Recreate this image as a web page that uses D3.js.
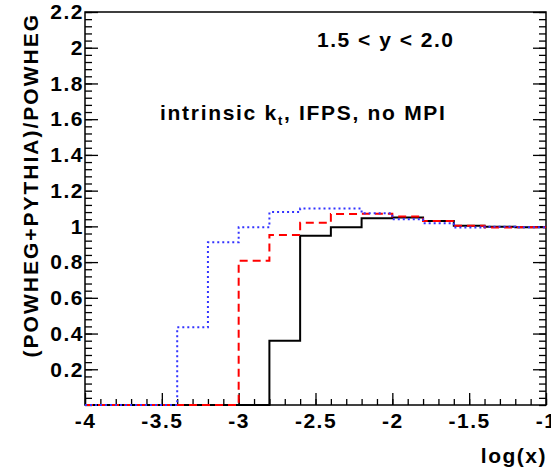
<!DOCTYPE html>
<html>
<head>
<meta charset="utf-8">
<script src="https://cdn.jsdelivr.net/npm/d3@7"></script>
<style>
  body { margin: 0; background: #fff; }
  svg text { font-family: "Liberation Sans", Arial, sans-serif; font-weight: bold; fill: #000; letter-spacing: 1.5px; }
</style>
</head>
<body>
<div id="chart"></div>
<script>
// bin edges: 15 bins of 0.2 from -4 to -1
const binEdges = [-4, -3.8, -3.6, -3.4, -3.2, -3.0, -2.8, -2.6, -2.4, -2.2, -2.0, -1.8, -1.6, -1.4, -1.2, -1.0]
const blackVals = [0, 0, 0, 0, 0, 0, 0.36, 0.948, 0.995, 1.045, 1.05, 1.03, 1.004, 0.998, 0.995]
const redVals   = [0, 0, 0, 0, 0, 0.808, 0.952, 1.02, 1.069, 1.07, 1.055, 1.03, 1.004, 0.993, 0.995]
const blueVals  = [0, 0, 0, 0.435, 0.911, 0.995, 1.08, 1.10, 1.10, 1.073, 1.04, 1.017, 0.993, 0.998, 0.995]
const xTicks = [-4, -3.5, -3, -2.5, -2, -1.5, -1]
const yTicks = [0.2, 0.4, 0.6, 0.8, 1, 1.2, 1.4, 1.6, 1.8, 2, 2.2]

var width = 551, height = 472
var plotL = 85, plotR = 546, plotT = 12, plotB = 405

const svg = d3.select("#chart").append("svg")
  .attr("width", width)
  .attr("height", height)

var x = d3.scaleLinear().domain([-4, -1]).range([plotL, plotR])
var y = d3.scaleLinear().domain([0, 2.2]).range([plotB, plotT])

// minor ticks
const xMinor = d3.range(0, 31).map(i => -4 + i * 0.1)
const yMinor = d3.range(0, 56).map(i => i * 0.04)

svg.append("g")
  .attr("transform", "translate(0," + plotB + ")")
  .call(d3.axisBottom(x).tickValues(xMinor).tickSizeInner(-6).tickSizeOuter(0).tickFormat(""))
  .call(g => g.select(".domain").remove())

svg.append("g")
  .attr("transform", "translate(" + plotL + ",0)")
  .call(d3.axisLeft(y).tickValues(yMinor).tickSizeInner(-7).tickSizeOuter(0).tickFormat(""))
  .call(g => g.select(".domain").remove())

svg.append("g")
  .attr("transform", "translate(" + plotR + ",0)")
  .call(d3.axisRight(y).tickValues(yMinor).tickSizeInner(-7).tickSizeOuter(0).tickFormat(""))
  .call(g => g.select(".domain").remove())

// major ticks + labels
svg.append("g")
  .attr("transform", "translate(0," + plotB + ")")
  .call(d3.axisBottom(x).tickValues(xTicks).tickSizeInner(-12).tickSizeOuter(0).tickPadding(8)
    .tickFormat(d => d3.format("~g")(d).replace("−", "-")))
  .call(g => g.select(".domain").remove())
  .selectAll("text").style("font-size", "21px")

svg.append("g")
  .attr("transform", "translate(" + plotL + ",0)")
  .call(d3.axisLeft(y).tickValues(yTicks).tickSizeInner(-13).tickSizeOuter(0).tickPadding(1)
    .tickFormat(d => d3.format("~g")(d)))
  .call(g => g.select(".domain").remove())
  .selectAll("text").style("font-size", "21px")

svg.append("g")
  .attr("transform", "translate(" + plotR + ",0)")
  .call(d3.axisRight(y).tickValues(yTicks).tickSizeInner(-13).tickSizeOuter(0).tickFormat(""))
  .call(g => g.select(".domain").remove())

svg.selectAll(".tick line").attr("stroke", "#000").attr("stroke-width", 1.3)

// frame
svg.append("rect")
  .attr("x", plotL).attr("y", plotT)
  .attr("width", plotR - plotL).attr("height", plotB - plotT)
  .attr("fill", "none").attr("stroke", "#000").attr("stroke-width", 1.5)

// histograms as step lines
function stepPts(vals) {
  const pts = vals.map((v, i) => [binEdges[i], v])
  pts.push([binEdges[binEdges.length - 1], vals[vals.length - 1]])
  return pts
}
var line = d3.line()
  .x(d => x(d[0]))
  .y(d => y(d[1]))
  .curve(d3.curveStepAfter)

svg.append("path")
  .attr("d", line(stepPts(blackVals)))
  .attr("fill", "none").attr("stroke", "#000").attr("stroke-width", 2)

svg.append("path")
  .attr("d", line(stepPts(redVals)))
  .attr("fill", "none").attr("stroke", "#ff0000").attr("stroke-width", 2)
  .attr("stroke-dasharray", "8,5")

svg.append("path")
  .attr("d", line(stepPts(blueVals)))
  .attr("fill", "none").attr("stroke", "#3333ff").attr("stroke-width", 2)
  .attr("stroke-dasharray", "2,3")

// labels
svg.append("text")
  .attr("x", plotR + 1).attr("y", 463)
  .attr("text-anchor", "end")
  .style("font-size", "21px")
  .text("log(x)")

svg.append("text")
  .attr("transform", "translate(38,13) rotate(-90)")
  .attr("text-anchor", "end")
  .style("font-size", "21px")
  .style("letter-spacing", "2px")
  .text("(POWHEG+PYTHIA)/POWHEG")

svg.append("text")
  .attr("x", 317).attr("y", 47)
  .style("font-size", "21px")
  .text("1.5 < y < 2.0")

const t = svg.append("text")
  .attr("x", 160).attr("y", 120)
  .style("font-size", "21px")
  .style("letter-spacing", "1.7px")
t.append("tspan").text("intrinsic k")
t.append("tspan").attr("dy", 5).style("font-size", "13px").text("t")
t.append("tspan").attr("dy", -5).text(", IFPS, no MPI")
</script>
</body>
</html>
